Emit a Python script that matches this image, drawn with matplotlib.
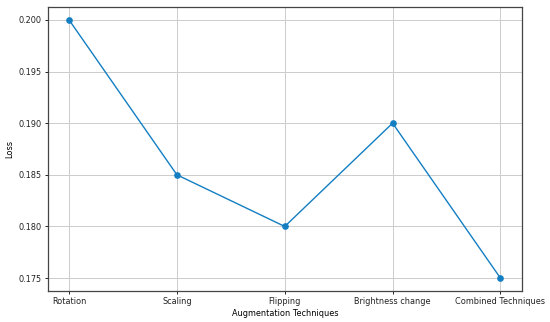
import matplotlib
matplotlib.use("Agg")
from matplotlib import pyplot as plt

techniques = ["Rotation", "Scaling", "Flipping", "Brightness change", "Combined Techniques"]
loss = [0.200, 0.185, 0.180, 0.190, 0.175]
yticks = [0.175, 0.180, 0.185, 0.190, 0.195, 0.200]

plt.rcParams['font.size'] = 5.9
plt.rcParams['text.color'] = '#222222'
plt.rcParams['xtick.labelcolor'] = '#222222'
plt.rcParams['ytick.labelcolor'] = '#222222'

fig, ax = plt.subplots(figsize=(5.5, 3.22), dpi=100)
fig.subplots_adjust(left=47.5/550, right=522/550, top=1-7/322, bottom=1-291/322)

ax.plot(techniques, loss, marker='o', color='#137fc2', linewidth=1.0, markersize=3.8)
ax.set_yticks(yticks)
ax.set_yticklabels(["%.3f" % v for v in yticks])
ax.set_xlabel("Augmentation Techniques", labelpad=2)
ax.set_ylabel("Loss", labelpad=3)
ax.grid(True, color='#cccccc', linewidth=0.7)
for s in ax.spines.values():
    s.set_linewidth(0.9)
    s.set_color('#444444')
ax.tick_params(length=2.5, width=0.6, pad=2)

plt.savefig("out.png", dpi=100)
